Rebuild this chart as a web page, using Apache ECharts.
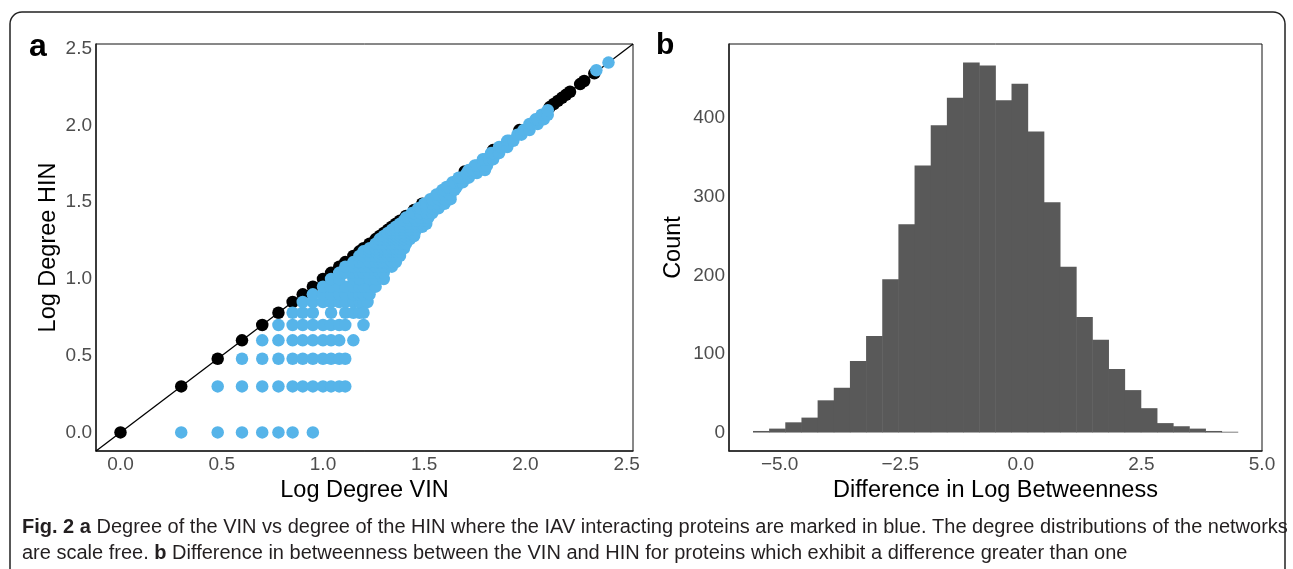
<!DOCTYPE html>
<html>
<head>
<meta charset="utf-8">
<script src="https://cdn.jsdelivr.net/npm/echarts@6/dist/echarts.min.js"></script>
<style>
html,body{margin:0;padding:0;background:#fff;}
#chart{width:1293px;height:569px;}
</style>
</head>
<body>
<div id="chart"></div>
<script>
// panel a : log degree VIN (x) vs log degree HIN (y)
// black = proteins on the diagonal (not interacting with IAV)
var diagPoints = [0, 0.30, 0.48, 0.60, 0.70, 0.78, 0.85, 0.90, 0.95, 1.00, 1.04, 1.08, 1.11, 1.15, 1.18,
    1.20, 1.23, 1.26, 1.28, 1.30, 1.32, 1.34, 1.36, 1.38, 1.41, 1.45, 1.49, 1.70, 1.84, 1.97,
    2.12, 2.14, 2.16, 2.18, 2.20, 2.22, 2.27, 2.29, 2.34];

// blue = IAV interacting proteins, one row per HIN value : [y, [x values]]
var blueRows = [
    [0.00, [0.30, 0.48, 0.60, 0.70, 0.78, 0.85, 0.95]],
    [0.30, [0.48, 0.60, 0.70, 0.78, 0.85, 0.90, 0.95, 1.00, 1.04, 1.08, 1.11]],
    [0.48, [0.60, 0.70, 0.78, 0.85, 0.90, 0.95, 1.00, 1.04, 1.08, 1.11]],
    [0.60, [0.70, 0.78, 0.85, 0.90, 0.95, 1.00, 1.04, 1.08, 1.15]],
    [0.70, [0.78, 0.85, 0.90, 0.95, 1.00, 1.04, 1.08, 1.11, 1.20]],
    [0.78, [0.85, 0.90, 0.95, 1.04, 1.11, 1.15, 1.18, 1.20]],
    [0.85, [0.90, 0.95, 1.00, 1.04, 1.08, 1.11, 1.15, 1.18, 1.20, 1.22]],
    [0.90, [0.95, 1.00, 1.04, 1.08, 1.11, 1.15, 1.18, 1.20, 1.23]],
    [0.95, [1.00, 1.04, 1.08, 1.11, 1.15, 1.18, 1.20, 1.23, 1.26]],
    [1.00, [1.04, 1.08, 1.15, 1.18, 1.23, 1.26, 1.30]],
    [1.04, [1.08, 1.11, 1.15, 1.18, 1.20, 1.23, 1.26, 1.28, 1.30]],
    [1.08, [1.11, 1.15, 1.18, 1.20, 1.23, 1.26, 1.28, 1.30, 1.32, 1.34]],
    [1.11, [1.15, 1.18, 1.20, 1.23, 1.26, 1.28, 1.30, 1.32, 1.34, 1.36]],
    [1.15, [1.18, 1.20, 1.23, 1.26, 1.28, 1.30, 1.32, 1.34, 1.36, 1.38]],
    [1.18, [1.20, 1.23, 1.26, 1.28, 1.30, 1.32, 1.34, 1.36, 1.38]],
    [1.20, [1.23, 1.26, 1.28, 1.30, 1.32, 1.34, 1.36, 1.38, 1.40]],
    [1.23, [1.26, 1.28, 1.30, 1.32, 1.34, 1.36, 1.38, 1.40, 1.41]],
    [1.26, [1.28, 1.30, 1.32, 1.34, 1.36, 1.38, 1.40, 1.43]],
    [1.28, [1.30, 1.32, 1.34, 1.36, 1.38, 1.40, 1.43, 1.45]],
    [1.30, [1.32, 1.34, 1.36, 1.38, 1.40, 1.43, 1.45]],
    [1.32, [1.34, 1.36, 1.38, 1.40, 1.43, 1.46]],
    [1.34, [1.36, 1.38, 1.40, 1.43, 1.46, 1.49]],
    [1.36, [1.38, 1.40, 1.43, 1.46, 1.49, 1.51]],
    [1.38, [1.40, 1.43, 1.46, 1.49, 1.51]],
    [1.40, [1.41, 1.42, 1.45, 1.48, 1.51, 1.52]],
    [1.43, [1.44, 1.45, 1.48, 1.51, 1.54]],
    [1.46, [1.47, 1.48, 1.51, 1.54, 1.57]],
    [1.49, [1.50, 1.51, 1.54, 1.57, 1.60]],
    [1.52, [1.53, 1.54, 1.57, 1.60, 1.63]],
    [1.55, [1.56, 1.57, 1.60, 1.63]],
    [1.58, [1.59, 1.60, 1.63, 1.65]],
    [1.60, [1.61, 1.62, 1.65, 1.66]],
    [1.63, [1.64, 1.65, 1.68, 1.69]],
    [1.66, [1.67, 1.68, 1.71, 1.72]],
    [1.69, [1.71, 1.74, 1.76]],
    [1.71, [1.72, 1.74, 1.77, 1.80]],
    [1.74, [1.75, 1.76, 1.79, 1.81]],
    [1.78, [1.79, 1.80, 1.82, 1.84]],
    [1.82, [1.83, 1.84, 1.87]],
    [1.86, [1.87, 1.88, 1.91]],
    [1.90, [1.91, 1.92, 1.94]],
    [1.94, [1.96, 1.98]],
    [1.97, [1.99, 2.02]],
    [2.01, [2.02, 2.03, 2.06]],
    [2.04, [2.05, 2.06, 2.09]],
    [2.07, [2.08, 2.09, 2.11]],
    [2.10, [2.11]],
    [2.36, [2.35]],
    [2.41, [2.41]]
];
var degTicks = [0, 0.5, 1.0, 1.5, 2.0, 2.5];
var degRange = [-0.121, 2.531];

// panel b : histogram of difference in log betweenness, 30 bins
var histStart = -5.553;
var binWidth = 0.335;
var counts = [2, 5, 13, 19, 41, 57, 91, 123, 195, 265, 340, 391, 426, 471, 467,
    423, 444, 383, 293, 211, 147, 118, 81, 54, 31, 12, 8, 5, 2, 1];
var diffTicks = [-5, -2.5, 0, 2.5, 5];
var countTicks = [0, 100, 200, 300, 400];

var blackData = diagPoints.map(function (v) { return [v, v]; });
var blueData = [];
blueRows.forEach(function (r) {
    r[1].forEach(function (x) { blueData.push([x, r[0]]); });
});
var histData = counts.map(function (c, i) {
    return [histStart + i * binWidth, histStart + (i + 1) * binWidth, c];
});

var font = 'Liberation Sans, Arial, sans-serif';
var tickLabel = {
    color: '#4d4d4d', fontSize: 19, fontFamily: font, margin: 4
};
var axisTitle = { color: '#000', fontSize: 23.5, fontFamily: font };
var axisLine = { show: true, onZero: false, lineStyle: { color: '#222', width: 1.5 } };

function fmt(v) {
    return v.toFixed(1).replace('-', '\u2212');
}

var myChart = echarts.init(document.getElementById('chart'));
myChart.setOption({
    animation: false,
    backgroundColor: '#fff',
    grid: [
        { left: 96, top: 44, width: 537, height: 407, show: true, borderColor: '#111', borderWidth: 1 },
        { left: 729, top: 44, width: 533, height: 407, show: true, borderColor: '#111', borderWidth: 1 }
    ],
    xAxis: [{
        gridIndex: 0, type: 'value', min: degRange[0], max: degRange[1],
        name: 'Log Degree VIN', nameLocation: 'middle', nameGap: 25, nameTextStyle: axisTitle,
        axisLine: axisLine, axisTick: { show: false }, splitLine: { show: false },
        axisLabel: Object.assign({ customValues: degTicks, formatter: fmt }, tickLabel)
    }, {
        gridIndex: 1, type: 'value', min: -6.05, max: 5.0,
        name: 'Difference in Log Betweenness', nameLocation: 'middle', nameGap: 25, nameTextStyle: axisTitle,
        axisLine: axisLine, axisTick: { show: false }, splitLine: { show: false },
        axisLabel: Object.assign({ customValues: diffTicks, formatter: fmt }, tickLabel)
    }],
    yAxis: [{
        gridIndex: 0, type: 'value', min: degRange[0], max: degRange[1],
        name: 'Log Degree HIN', nameLocation: 'middle', nameGap: 35, nameTextStyle: axisTitle,
        axisLine: axisLine, axisTick: { show: false }, splitLine: { show: false },
        axisLabel: Object.assign({ customValues: degTicks, formatter: fmt }, tickLabel)
    }, {
        gridIndex: 1, type: 'value', min: -23.5, max: 494.5,
        name: 'Count', nameLocation: 'middle', nameGap: 43, nameTextStyle: axisTitle,
        axisLine: axisLine, axisTick: { show: false }, splitLine: { show: false },
        axisLabel: Object.assign({ customValues: countTicks }, tickLabel)
    }],
    series: [{
        type: 'line', xAxisIndex: 0, yAxisIndex: 0, z: 1,
        data: [[degRange[0], degRange[0]], [degRange[1], degRange[1]]],
        symbol: 'none', lineStyle: { color: '#000', width: 1.3 }, silent: true
    }, {
        type: 'scatter', xAxisIndex: 0, yAxisIndex: 0, z: 2,
        data: blackData, symbolSize: 12.5, itemStyle: { color: '#000', opacity: 1 }
    }, {
        type: 'scatter', xAxisIndex: 0, yAxisIndex: 0, z: 3,
        data: blueData, symbolSize: 12.5, itemStyle: { color: '#56B4E9', opacity: 1 }
    }, {
        type: 'custom', xAxisIndex: 1, yAxisIndex: 1,
        data: histData,
        encode: { x: [0, 1], y: 2 },
        renderItem: function (params, api) {
            var p0 = api.coord([api.value(0), api.value(2)]);
            var p1 = api.coord([api.value(1), 0]);
            return {
                type: 'rect',
                shape: { x: p0[0], y: p0[1], width: p1[0] - p0[0] + 0.5, height: p1[1] - p0[1] },
                style: { fill: '#595959' }
            };
        }
    }],
    graphic: [{
        type: 'rect', silent: true, z: -1,
        shape: { x: 10, y: 12, width: 1275, height: 620, r: 12 },
        style: { fill: 'none', stroke: '#222', lineWidth: 1.5 }
    }, {
        type: 'text', left: 29, top: 31,
        style: { text: 'a', font: 'bold 32px ' + font, fill: '#000' }
    }, {
        type: 'text', left: 656, top: 31,
        style: { text: 'b', font: 'bold 30px ' + font, fill: '#000' }
    }, {
        type: 'text', left: 22, top: 514,
        style: {
            text: '{b|Fig. 2 a} Degree of the VIN vs degree of the HIN where the IAV interacting proteins are marked in blue. The degree distributions of the networks\nare scale free. {b|b} Difference in betweenness between the VIN and HIN for proteins which exhibit a difference greater than one',
            font: '20px ' + font,
            fill: '#231f20', lineHeight: 26,
            rich: { b: { fontWeight: 'bold', fontSize: 20, fontFamily: font, fill: '#231f20' } }
        }
    }]
});
</script>
</body>
</html>
